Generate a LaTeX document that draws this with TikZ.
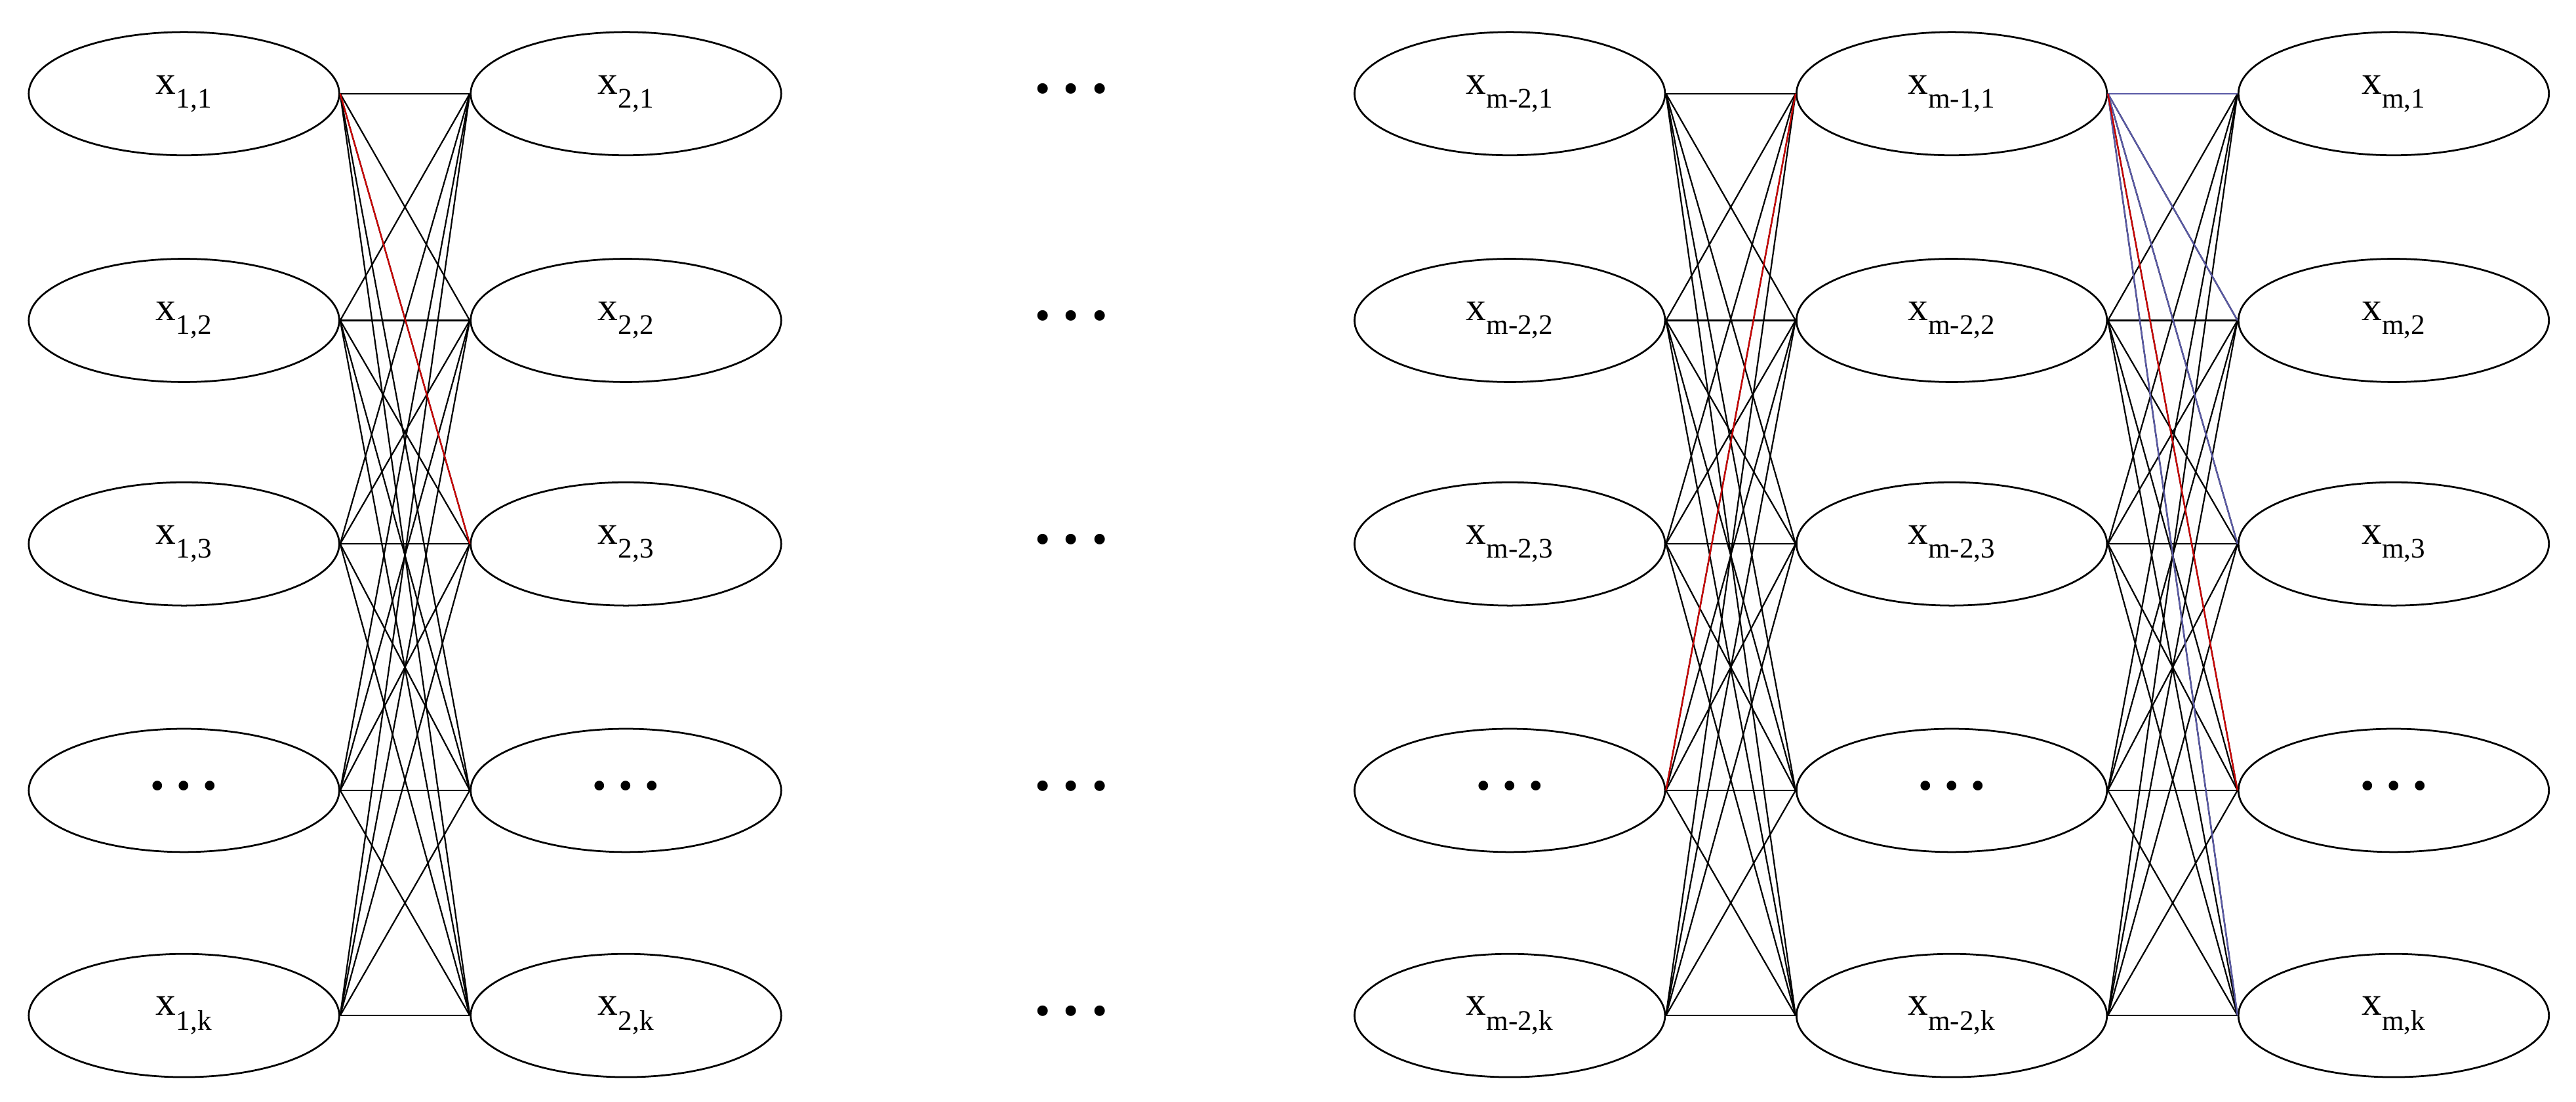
\documentclass[tikz,border=0pt]{standalone}
\usepackage{fontspec}
\setmainfont{Liberation Serif}
\usetikzlibrary{shapes.geometric}
\begin{document}
\begin{tikzpicture}[x=1mm,y=-1mm,
  el/.style={ellipse,draw,line width=1.1mm,minimum width=189mm,minimum height=75mm,inner sep=0pt,font=\fontsize{70}{80}\selectfont},
  ed/.style={line width=0.9mm},
  dots/.style={font=\fontsize{76}{90}\selectfont}]
\useasboundingbox (0,0) rectangle (1568,670.3);
\def\dd{\textbullet\hspace{0.3em}\textbullet\hspace{0.3em}\textbullet}
\foreach \r/\y in {1/57,2/195,3/331,4/481,5/618}{
  \node[dots] (d\r) at (652,\y) {\dd};
}
\foreach \c/\x in {1/112,2/381,3/919,4/1188,5/1457}{
  \foreach \r/\y in {1/57,2/195,3/331,4/481,5/618}{
    \coordinate (p\c\r) at (\x,\y);
  }
}
\node[el] (n11) at (p11) {x\textsubscript{1,1}};
\node[el] (n12) at (p12) {x\textsubscript{1,2}};
\node[el] (n13) at (p13) {x\textsubscript{1,3}};
\node[el] (n14) at (p14) {\dd};
\node[el] (n15) at (p15) {x\textsubscript{1,k}};
\node[el] (n21) at (p21) {x\textsubscript{2,1}};
\node[el] (n22) at (p22) {x\textsubscript{2,2}};
\node[el] (n23) at (p23) {x\textsubscript{2,3}};
\node[el] (n24) at (p24) {\dd};
\node[el] (n25) at (p25) {x\textsubscript{2,k}};
\node[el] (n31) at (p31) {x\textsubscript{m-2,1}};
\node[el] (n32) at (p32) {x\textsubscript{m-2,2}};
\node[el] (n33) at (p33) {x\textsubscript{m-2,3}};
\node[el] (n34) at (p34) {\dd};
\node[el] (n35) at (p35) {x\textsubscript{m-2,k}};
\node[el] (n41) at (p41) {x\textsubscript{m-1,1}};
\node[el] (n42) at (p42) {x\textsubscript{m-2,2}};
\node[el] (n43) at (p43) {x\textsubscript{m-2,3}};
\node[el] (n44) at (p44) {\dd};
\node[el] (n45) at (p45) {x\textsubscript{m-2,k}};
\node[el] (n51) at (p51) {x\textsubscript{m,1}};
\node[el] (n52) at (p52) {x\textsubscript{m,2}};
\node[el] (n53) at (p53) {x\textsubscript{m,3}};
\node[el] (n54) at (p54) {\dd};
\node[el] (n55) at (p55) {x\textsubscript{m,k}};
\foreach \a/\b in {1/2,3/4,4/5}{
  \foreach \i in {1,...,5}{
    \foreach \j in {1,...,5}{
      \draw[ed] (n\a\i.east) -- (n\b\j.west);
    }
  }
}
\draw[ed,red!80!black] (n11.east) -- (n23.west);
\draw[ed,red!80!black] (n34.east) -- (n41.west);
\foreach \j in {1,2,3,5}{
  \draw[ed,blue!30!gray] (n41.east) -- (n5\j.west);
}
\draw[ed,red!80!black] (n41.east) -- (n54.west);
\end{tikzpicture}
\end{document}
